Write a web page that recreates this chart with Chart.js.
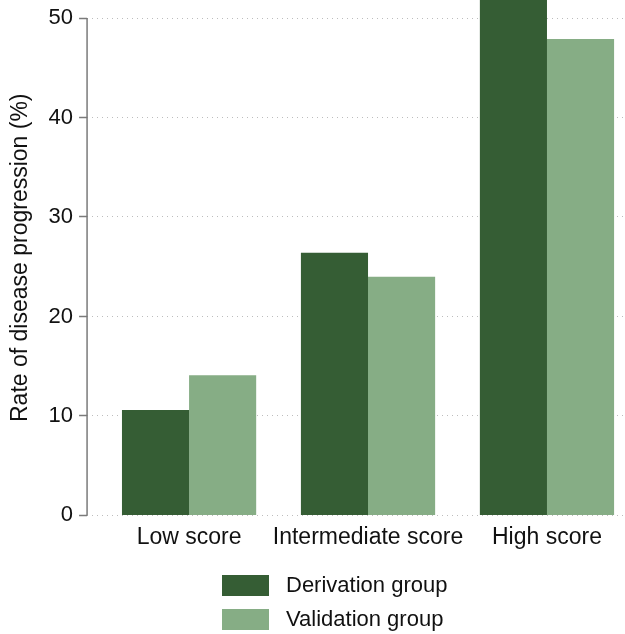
<!DOCTYPE html>
<html>
<head>
<meta charset="utf-8">
<script src="https://cdn.jsdelivr.net/npm/chart.js@4"></script>
<style>
  body { margin: 0; background: #fff; }
  #wrap { position: relative; width: 625px; height: 634px; overflow: hidden; }
  #inner { position: absolute; left: 0; top: -7px; width: 625px; height: 641px; }
  #legend { position: absolute; left: 222px; top: 568px; font: 22px "Liberation Sans", Arial, sans-serif; color: #111; }
  .item { display: flex; align-items: center; height: 34px; }
  .box { width: 47px; height: 21px; margin-right: 17px; }
</style>
</head>
<body>
<div id="wrap">
  <div id="inner"><canvas id="chart"></canvas></div>
  <div id="legend"></div>
</div>
<script>
const categories = ['Low score', 'Intermediate score', 'High score'];
const derivation = [10.6, 26.4, 53.0];
const validation = [14.1, 24.0, 47.9];
const yTicks = [0, 10, 20, 30, 40, 50];
const seriesNames = ['Derivation group', 'Validation group'];
const seriesColors = ['#355d34', '#86ad85'];

const font = '"Liberation Sans", Arial, sans-serif';

// y axis line only from 0 to 50, like the original
const axisLine = {
  id: 'axisLine',
  afterDraw(chart) {
    const y = chart.scales.y;
    const ctx = chart.ctx;
    ctx.save();
    ctx.strokeStyle = '#7a7a7a';
    ctx.lineWidth = 1.5;
    ctx.beginPath();
    ctx.moveTo(chart.chartArea.left, y.getPixelForValue(yTicks[0]));
    ctx.lineTo(chart.chartArea.left, y.getPixelForValue(yTicks[yTicks.length - 1]));
    ctx.stroke();
    ctx.restore();
  }
};

function toPoints(values) {
  return values.map((v, i) => ({ x: i, y: v }));
}

const series = [derivation, validation];

new Chart(document.getElementById('chart').getContext('2d'), {
  type: 'bar',
  data: {
    datasets: series.map((s, i) => ({
      label: seriesNames[i],
      data: toPoints(s),
      backgroundColor: seriesColors[i],
      borderWidth: 0,
      categoryPercentage: 0.75,
      barPercentage: 1
    }))
  },
  options: {
    responsive: true,
    maintainAspectRatio: false,
    animation: false,
    layout: { padding: { left: 7, right: 0, top: 0, bottom: 83 } },
    plugins: { legend: { display: false }, tooltip: { enabled: false } },
    scales: {
      x: {
        type: 'linear',
        offset: false,
        min: -0.57,
        max: 2.436,
        grid: { display: false, offset: false },
        border: { display: false },
        afterBuildTicks: s => { s.ticks = categories.map((c, i) => ({ value: i })); },
        ticks: {
          callback: v => categories[v],
          color: '#111',
          padding: 0,
          maxRotation: 0,
          autoSkip: false,
          font: { family: font, size: 23 }
        }
      },
      y: {
        min: 0,
        max: 51.8,
        afterBuildTicks: s => { s.ticks = yTicks.map(v => ({ value: v })); },
        grid: {
          color: '#bdbdbd',
          lineWidth: 1,
          tickColor: '#7a7a7a',
          tickWidth: 1.5,
          tickLength: 8,
          tickBorderDash: []
        },
        border: { display: false, dash: [1, 4] },
        ticks: {
          color: '#111',
          padding: 6,
          font: { family: font, size: 22, lineHeight: 0.1 }
        },
        title: {
          display: true,
          text: 'Rate of disease progression (%)',
          color: '#111',
          padding: { top: 0, bottom: 8 },
          font: { family: font, size: 23 }
        }
      }
    }
  },
  plugins: [axisLine]
});

const legend = document.getElementById('legend');
seriesNames.forEach((name, i) => {
  const item = document.createElement('div');
  item.className = 'item';
  const box = document.createElement('span');
  box.className = 'box';
  box.style.background = seriesColors[i];
  const text = document.createElement('span');
  text.textContent = name;
  item.appendChild(box);
  item.appendChild(text);
  legend.appendChild(item);
});
</script>
</body>
</html>
